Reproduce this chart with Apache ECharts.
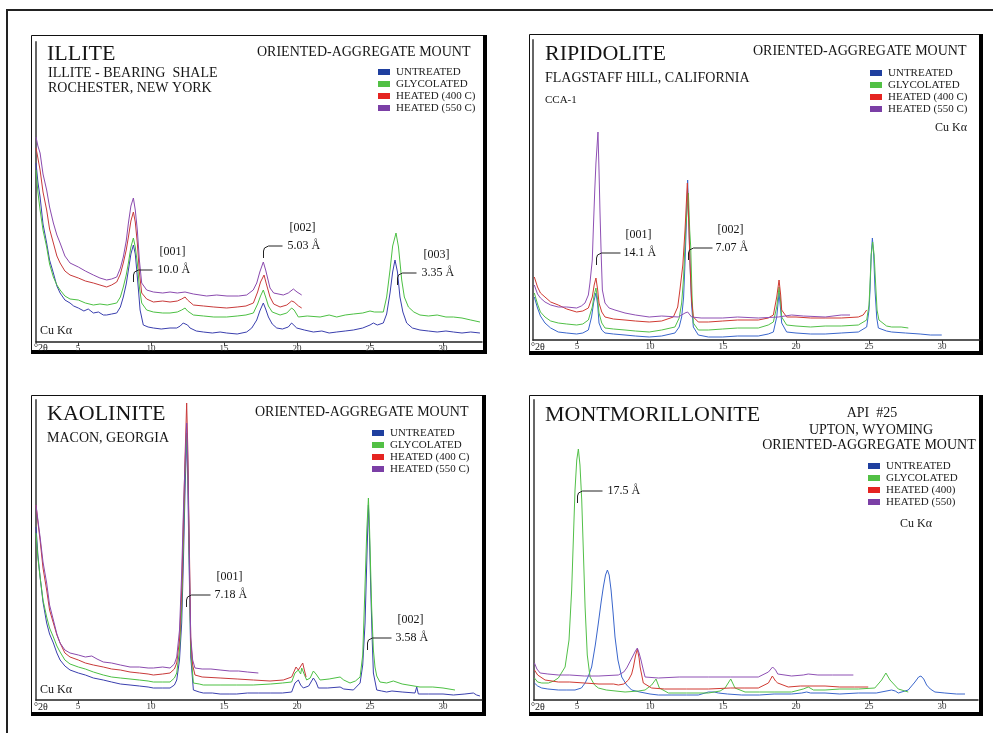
<!DOCTYPE html>
<html>
<head>
<meta charset="utf-8">
<title>Clay minerals - XRD patterns</title>
<script src="https://cdn.jsdelivr.net/npm/echarts@6/dist/echarts.min.js"></script>
<style>
    html, body { margin: 0; padding: 0; background: #fff; }
    #main { width: 993px; height: 733px; }
</style>
</head>
<body>
<div id="main"></div>
<script>
// peak traces, [°2θ, counts]
var illiteUntreated = [[2.12,179],[2.25,160],[2.40,145],[2.6,118],[2.85,99],[3.05,82],[3.31,69],[3.55,56],[3.77,49],[4.1,42],[4.45,39],[4.7,36],[5.02,34],[5.4,31],[5.7,33],[6.05,29],[6.4,30],[6.73,27],[6.96,27],[7.3,28],[7.65,29],[7.9,35],[8.10,45],[8.3,58],[8.45,72],[8.62,88],[8.79,97],[8.92,88],[9.02,72],[9.15,50],[9.25,32],[9.47,17],[9.8,15],[10.16,14],[10.7,13],[11.3,14],[11.76,14],[12.0,16],[12.2,19],[12.33,20],[12.5,17],[12.67,14],[13.1,11],[13.58,10],[14.2,9],[14.73,10],[15.18,9],[15.9,8],[16.55,10],[16.9,14],[17.24,22],[17.45,31],[17.69,39],[17.85,33],[18.04,25],[18.3,18],[18.61,14],[19.0,13],[19.4,15],[19.63,19],[19.75,18],[19.98,14],[20.5,12],[21.12,10],[21.7,11],[22.2,9],[22.72,10],[23.3,11],[23.86,12],[24.5,14],[25.0,17],[25.23,19],[25.5,17],[25.91,19],[26.14,28],[26.37,49],[26.55,70],[26.71,82],[26.88,70],[27.05,45],[27.25,30],[27.51,19],[27.9,14],[28.42,12],[29.0,11],[29.6,10],[30.2,11],[30.71,10],[31.3,9],[31.9,10],[32.53,9]];
var illiteGlycolated = [[2.12,172],[2.25,150],[2.40,132],[2.6,112],[2.85,95],[3.05,78],[3.31,65],[3.55,57],[3.77,52],[4.1,46],[4.45,43],[5.02,42],[5.5,39],[6.05,37],[6.5,38],[7.0,37],[7.65,39],[7.9,45],[8.10,55],[8.3,67],[8.45,79],[8.62,95],[8.79,104],[8.92,95],[9.06,79],[9.2,55],[9.36,39],[9.70,32],[10.16,30],[10.8,29],[11.3,29],[11.8,30],[12.1,32],[12.33,34],[12.5,31],[12.9,27],[13.6,26],[14.3,25],[15.18,25],[15.9,26],[16.5,27],[17.01,29],[17.3,38],[17.5,46],[17.69,52],[17.85,45],[18.04,36],[18.3,30],[18.84,27],[19.3,29],[19.63,34],[19.8,32],[20.09,25],[20.7,26],[21.58,25],[22.2,27],[22.72,25],[23.3,27],[23.86,28],[24.5,29],[25.0,31],[25.3,30],[25.91,30],[26.14,45],[26.37,72],[26.55,96],[26.78,109],[26.95,95],[27.17,62],[27.35,45],[27.63,35],[28.0,30],[28.42,27],[29.0,26],[29.6,27],[30.2,25],[30.71,25],[31.3,24],[31.9,22],[32.53,20]];
var illiteHeated400 = [[2.12,194],[2.25,184],[2.40,172],[2.6,150],[2.85,132],[3.05,113],[3.31,99],[3.55,86],[3.77,79],[4.1,71],[4.45,67],[5.02,64],[5.5,61],[6.05,59],[6.5,57],[6.96,55],[7.3,57],[7.65,60],[7.9,68],[8.10,79],[8.3,92],[8.45,105],[8.62,121],[8.79,130],[8.92,120],[9.06,99],[9.2,70],[9.36,49],[9.70,43],[10.16,40],[10.8,41],[11.3,40],[11.8,41],[12.1,43],[12.33,45],[12.5,42],[12.9,37],[13.6,36],[14.3,35],[15.18,34],[15.9,35],[16.5,36],[17.01,39],[17.3,50],[17.5,60],[17.74,67],[17.9,58],[18.15,45],[18.4,38],[18.84,35],[19.3,37],[19.63,41],[19.8,40],[20.1,36],[20.32,34]];
var illiteHeated550 = [[2.12,205],[2.25,196],[2.40,189],[2.6,168],[2.85,152],[3.05,135],[3.31,119],[3.55,107],[3.77,99],[4.1,86],[4.45,79],[5.02,75],[5.5,71],[6.05,67],[6.5,64],[6.96,62],[7.3,63],[7.65,65],[7.9,74],[8.10,85],[8.3,101],[8.45,119],[8.62,136],[8.79,144],[8.92,132],[9.06,112],[9.2,82],[9.36,59],[9.70,52],[10.16,50],[10.8,49],[11.3,50],[11.8,49],[12.33,50],[12.9,48],[13.81,46],[14.5,47],[15.2,46],[16.0,46],[16.55,47],[17.0,52],[17.24,59],[17.45,70],[17.69,80],[17.85,72],[18.15,54],[18.4,49],[19.06,47],[19.4,49],[19.75,53],[20.0,50],[20.32,47]];

var ripUntreated = [[2.08,43],[2.3,32],[2.5,24],[2.81,17],[3.2,12],[3.72,8],[4.3,7],[4.98,6],[5.4,7],[5.78,10],[6.0,23],[6.15,38],[6.30,47],[6.42,35],[6.51,17],[6.7,10],[6.92,7],[7.5,6],[8.29,5],[9.0,4],[9.95,3],[10.8,4],[11.71,7],[12.0,13],[12.17,23],[12.30,42],[12.40,77],[12.50,120],[12.58,160],[12.66,120],[12.74,77],[12.85,35],[12.97,13],[13.31,5],[14.0,3],[14.98,3],[16.0,4],[17.42,4],[18.1,6],[18.45,8],[18.68,23],[18.84,47],[18.95,30],[19.02,17],[19.36,8],[20.0,7],[21.0,6],[22.0,6],[23.1,7],[24.27,8],[24.84,13],[25.0,30],[25.07,50],[25.15,85],[25.23,102],[25.32,85],[25.41,50],[25.53,22],[25.64,12],[26.2,9],[26.55,8],[27.5,7],[28.5,6],[29.2,5],[29.98,5]];
var ripGlycolated = [[2.08,47],[2.3,36],[2.5,28],[2.81,23],[3.2,19],[3.72,17],[4.3,16],[4.98,15],[5.4,16],[5.78,20],[6.05,33],[6.18,45],[6.30,52],[6.42,40],[6.51,27],[6.7,17],[6.92,12],[7.5,11],[8.29,10],[9.0,9],[9.95,8],[10.8,10],[11.71,13],[12.0,22],[12.17,37],[12.30,62],[12.44,110],[12.63,147],[12.72,110],[12.79,93],[12.88,45],[12.97,17],[13.31,10],[14.0,10],[14.98,11],[16.0,12],[17.42,12],[18.1,15],[18.45,18],[18.68,33],[18.84,53],[18.95,38],[19.02,23],[19.36,15],[20.0,14],[21.0,13],[22.0,14],[23.1,14],[24.27,15],[24.84,20],[25.0,35],[25.07,57],[25.15,85],[25.25,98],[25.35,85],[25.45,57],[25.55,30],[25.68,20],[26.2,14],[26.55,13],[27.2,13],[27.69,12]];
var ripHeated400 = [[2.08,63],[2.3,53],[2.5,47],[2.81,43],[3.2,38],[3.72,35],[4.3,31],[4.98,28],[5.4,29],[5.78,32],[6.05,43],[6.18,55],[6.30,62],[6.42,50],[6.51,37],[6.7,28],[6.92,23],[7.5,21],[8.29,20],[9.0,19],[9.95,18],[10.8,19],[11.60,23],[11.9,33],[12.05,50],[12.25,75],[12.40,110],[12.56,157],[12.65,120],[12.74,77],[12.85,40],[12.97,23],[13.31,18],[14.0,18],[14.98,19],[16.0,20],[17.42,20],[18.1,22],[18.45,25],[18.68,43],[18.84,60],[18.95,45],[19.02,30],[19.36,23],[20.0,23],[21.0,22],[22.0,22],[23.1,22],[24.27,23],[24.6,25],[24.84,30]];
var ripHeated550 = [[2.08,55],[2.3,46],[2.5,42],[2.81,38],[3.2,35],[3.72,33],[4.3,33],[4.98,32],[5.3,34],[5.55,37],[5.78,45],[5.89,57],[6.05,80],[6.12,110],[6.22,150],[6.30,177],[6.44,208],[6.51,170],[6.58,127],[6.66,85],[6.74,50],[6.92,37],[7.2,32],[7.6,30],[8.29,27],[9.0,25],[9.95,23],[10.8,24],[11.94,23],[12.40,27],[12.58,28],[12.85,23],[13.5,22],[14.98,22],[16.0,23],[17.42,22],[18.79,23],[19.70,25],[20.5,24],[22.0,23],[23.1,25],[23.70,25]];

var kaolUntreated = [[2.12,173],[2.25,145],[2.40,123],[2.6,98],[2.85,77],[3.05,66],[3.31,57],[3.55,47],[3.77,40],[4.1,34],[4.45,30],[5.02,27],[5.5,25],[6.05,22],[6.73,20],[7.3,18],[7.9,16],[8.56,15],[9.2,14],[9.8,13],[10.16,12],[10.8,12],[11.30,12],[11.60,15],[11.76,20],[11.95,40],[12.10,77],[12.22,140],[12.33,210],[12.44,262],[12.52,220],[12.56,177],[12.65,100],[12.72,43],[12.90,10],[13.3,8],[13.58,7],[14.2,7],[14.73,6],[15.4,6],[15.87,6],[16.6,7],[17.35,7],[18.2,7],[19.0,7],[19.63,8],[19.86,17],[20.09,20],[20.25,15],[20.43,12],[20.8,14],[21.12,22],[21.3,18],[21.46,12],[22.1,12],[22.95,13],[23.2,11],[23.86,10],[24.32,17],[24.5,35],[24.66,77],[24.80,150],[24.89,195],[24.97,160],[25.05,110],[25.15,60],[25.23,27],[25.46,10],[25.8,9],[26.14,8],[26.5,9],[27.2,8],[28.08,7],[28.20,13],[28.31,6],[29.0,6],[30.0,6],[30.71,5],[31.5,6],[32.08,7],[32.3,5],[32.53,4]];
var kaolGlycolated = [[2.12,167],[2.25,142],[2.40,123],[2.6,100],[2.85,83],[3.05,72],[3.31,63],[3.55,54],[3.77,48],[4.1,40],[4.45,36],[5.02,33],[5.5,31],[6.05,28],[6.73,25],[7.3,23],[7.9,22],[8.56,21],[9.2,20],[9.8,19],[10.16,18],[10.8,18],[11.30,18],[11.60,22],[11.76,27],[11.95,50],[12.10,93],[12.22,160],[12.33,227],[12.44,267],[12.52,230],[12.56,193],[12.65,110],[12.72,50],[12.90,17],[13.3,16],[13.58,15],[14.73,15],[15.87,15],[17.0,15],[18.2,16],[19.0,17],[19.63,18],[19.86,27],[20.09,30],[20.25,26],[20.32,32],[20.43,28],[20.66,20],[20.9,22],[21.12,29],[21.3,26],[21.58,20],[22.2,21],[22.95,23],[23.2,20],[23.63,17],[24.0,19],[24.32,23],[24.5,45],[24.61,93],[24.78,170],[24.89,202],[24.97,170],[25.11,93],[25.23,50],[25.34,33],[25.46,24],[25.68,18],[26.14,17],[26.6,19],[27.2,16],[28.42,13],[29.3,13],[30.0,12],[30.82,10]];
var kaolHeated400 = [[2.12,195],[2.25,178],[2.40,160],[2.6,132],[2.85,110],[3.05,90],[3.31,77],[3.55,65],[3.77,57],[4.1,47],[4.45,43],[5.02,40],[5.5,37],[6.05,35],[6.73,33],[7.3,31],[7.9,30],[8.56,28],[9.2,27],[9.8,26],[10.16,25],[10.8,26],[11.30,27],[11.60,31],[11.76,37],[11.95,60],[12.10,110],[12.22,180],[12.33,243],[12.44,297],[12.52,250],[12.56,210],[12.65,130],[12.72,60],[12.85,35],[13.01,25],[13.5,23],[14.73,22],[15.9,21],[17.01,20],[18.15,19],[19.06,20],[19.63,23],[19.93,33],[20.09,30],[20.16,28],[20.39,37],[20.5,30],[20.62,23]];
var kaolHeated550 = [[2.12,195],[2.25,180],[2.40,163],[2.6,138],[2.85,117],[3.05,95],[3.31,80],[3.55,66],[3.77,57],[4.1,50],[4.45,47],[5.02,45],[5.5,43],[5.94,44],[6.3,41],[6.73,38],[7.3,37],[7.9,35],[8.56,33],[9.2,33],[9.8,32],[10.16,32],[10.8,33],[11.30,32],[11.60,36],[11.76,43],[11.95,70],[12.10,127],[12.22,190],[12.33,237],[12.44,277],[12.52,240],[12.56,200],[12.65,120],[12.72,63],[12.85,40],[13.01,32],[13.5,31],[14.1,31],[14.73,30],[15.4,29],[16.0,29],[16.6,28],[17.35,27]];

var montUntreated = [[2.08,17],[2.3,14],[2.58,12],[3.0,11],[3.72,10],[4.3,10],[4.86,10],[5.3,12],[5.55,17],[5.78,24],[6.00,33],[6.25,55],[6.46,77],[6.65,98],[6.80,113],[6.95,125],[7.08,130],[7.2,125],[7.33,110],[7.47,87],[7.60,63],[7.8,40],[8.06,23],[8.4,15],[8.74,10],[9.3,8],[10.0,6],[10.57,5],[11.5,5],[12.5,5],[13.31,5],[14.0,8],[14.4,8],[14.68,7],[15.3,6],[16.28,5],[17.5,5],[18.5,6],[19.70,6],[20.4,7],[20.73,8],[21.0,7],[21.99,7],[23.0,6],[24.27,7],[25.5,7],[26.55,10],[26.8,9],[27.01,7],[27.69,10],[28.15,18],[28.4,23],[28.56,24],[28.75,21],[28.95,15],[29.2,11],[29.52,8],[30.2,7],[31.0,6],[31.58,6]];
var montGlycolated = [[2.08,22],[2.3,18],[2.58,17],[3.04,17],[3.4,19],[3.72,22],[4.18,33],[4.45,60],[4.63,110],[4.86,210],[4.98,240],[5.09,251],[5.2,235],[5.32,200],[5.45,140],[5.55,93],[5.7,45],[5.89,23],[6.2,15],[6.46,12],[7.0,10],[8.29,8],[9.2,9],[9.66,10],[10.11,15],[10.41,21],[10.64,12],[11.26,7],[12.5,7],[14.0,7],[14.8,9],[15.14,12],[15.53,21],[15.82,12],[16.51,8],[17.5,8],[18.5,8],[19.70,8],[20.5,11],[20.84,13],[21.2,10],[21.99,10],[23.0,11],[24.27,11],[25.4,12],[25.87,20],[26.16,27],[26.44,20],[26.63,17],[27.01,11],[27.12,10],[27.69,8]];
var montHeated400 = [[2.08,30],[2.3,25],[2.81,20],[3.72,18],[4.5,18],[5.5,17],[6.5,16],[7.5,16],[7.83,15],[8.2,16],[8.52,20],[8.74,26],[8.86,33],[9.0,44],[9.13,51],[9.25,42],[9.32,33],[9.54,17],[10.11,12],[11.0,11],[12.5,11],[14.0,11],[15.5,12],[16.5,12],[17.42,12],[18.11,17],[18.38,24],[18.6,19],[18.75,17],[19.47,13],[20.3,14],[21.99,14],[23.0,13],[24.0,13],[24.95,13]];
var montHeated550 = [[2.08,37],[2.25,31],[2.47,27],[3.0,26],[3.72,25],[4.5,25],[5.5,24],[6.5,24],[7.83,25],[8.2,28],[8.40,32],[8.79,43],[9.0,49],[9.13,52],[9.25,47],[9.38,40],[9.54,30],[9.66,23],[10.57,22],[12.0,23],[14.0,23],[15.5,23],[17.42,23],[18.11,28],[18.40,33],[18.6,30],[18.75,26],[19.70,24],[20.5,25],[20.84,26],[21.5,25],[22.5,25],[23.93,25]];

var tickValues = [5, 10, 15, 20, 25, 30];
var namesC = ['UNTREATED', 'GLYCOLATED', 'HEATED (400 C)', 'HEATED (550 C)'];
var namesMont = ['UNTREATED', 'GLYCOLATED', 'HEATED (400)', 'HEATED (550)'];

var colorsDark = ['#3a3fae', '#4cc043', '#c83a3a', '#8a4aae'];
var colorsLight = ['#3a66cc', '#52c048', '#d03a32', '#8e50b4'];
var swatch = ['#1f3f9f', '#52c045', '#e52421', '#7b3fa6'];
var serif = '"Liberation Serif", "Times New Roman", serif';

var myChart = echarts.init(document.getElementById('main'));

// 4 panels, y runs 0-300 counts over 300px
var panels = [
    {left: 36, top: 42, width: 446, min: 2.12, max: 32.67, names: namesC, colors: colorsDark,
        data: [illiteUntreated, illiteGlycolated, illiteHeated400, illiteHeated550], legend: [378, 66]},
    {left: 533, top: 40, width: 447, min: 1.99, max: 32.6, names: namesC, colors: colorsLight,
        data: [ripUntreated, ripGlycolated, ripHeated400, ripHeated550], legend: [870, 67]},
    {left: 36, top: 400, width: 446, min: 2.12, max: 32.67, names: namesC, colors: colorsDark,
        data: [kaolUntreated, kaolGlycolated, kaolHeated400, kaolHeated550], legend: [372, 427]},
    {left: 534, top: 400, width: 444, min: 2.05, max: 32.47, names: namesMont, colors: colorsLight,
        data: [montUntreated, montGlycolated, montHeated400, montHeated550], legend: [868, 460]}
];

var grids = [], xAxes = [], yAxes = [], series = [], legends = [];
panels.forEach(function (p, i) {
    grids.push({left: p.left, top: p.top, width: p.width, height: 300, containLabel: false, outerBoundsMode: 'none'});
    xAxes.push({
        type: 'value', gridIndex: i, min: p.min, max: p.max,
        axisLine: {show: true, onZero: false, lineStyle: {color: '#222', width: 1.5}},
        axisTick: {show: true, customValues: tickValues, length: 4, lineStyle: {color: '#444'}},
        axisLabel: {customValues: tickValues, fontSize: 9, fontFamily: serif, color: '#333', margin: 2},
        splitLine: {show: false}
    });
    yAxes.push({
        type: 'value', gridIndex: i, min: 0, max: 300,
        axisLine: {show: true, onZero: false, lineStyle: {color: '#666', width: 2}},
        axisTick: {show: false}, axisLabel: {show: false}, splitLine: {show: false}
    });
    p.data.forEach(function (d, j) {
        series.push({
            type: 'line', name: p.names[j], xAxisIndex: i, yAxisIndex: i, data: d,
            showSymbol: false, symbol: 'none', silent: true, z: 2 + j,
            lineStyle: {width: 1, color: p.colors[j]},
            itemStyle: {color: swatch[j]}
        });
    });
    legends.push({
        left: p.legend[0], top: p.legend[1], orient: 'vertical', padding: 0, itemGap: 0,
        itemWidth: 12, itemHeight: 6, icon: 'rect', selectedMode: false,
        itemStyle: {borderWidth: 0},
        textStyle: {fontFamily: serif, fontSize: 11, lineHeight: 12, color: '#222', padding: [0, 0, 0, 1]},
        data: p.names.map(function (n, j) { return {name: n, itemStyle: {color: swatch[j]}}; })
    });
});

myChart.setOption({
    animation: false,
    backgroundColor: '#fff',
    grid: grids,
    xAxis: xAxes,
    yAxis: yAxes,
    legend: legends,
    series: series
});

// titles / labels [text, x, y, size, align]
var labels = [
    ['ILLITE', 47, 54, 22], ['ILLITE - BEARING  SHALE', 48, 73, 14], ['ROCHESTER, NEW YORK', 48, 88, 14],
    ['ORIENTED-AGGREGATE MOUNT', 257, 52, 14], ['Cu K\u03b1', 40, 331, 12], ['\u00b02\u03b8', 34, 348, 10],
    ['RIPIDOLITE', 545, 54, 22], ['FLAGSTAFF HILL, CALIFORNIA', 545, 78, 14], ['CCA-1', 545, 100, 11],
    ['ORIENTED-AGGREGATE MOUNT', 753, 51, 14], ['Cu K\u03b1', 935, 128, 12], ['\u00b02\u03b8', 531, 347, 10],
    ['KAOLINITE', 47, 414, 22], ['MACON, GEORGIA', 47, 438, 14],
    ['ORIENTED-AGGREGATE MOUNT', 255, 412, 14], ['Cu K\u03b1', 40, 690, 12], ['\u00b02\u03b8', 34, 707, 10],
    ['MONTMORILLONITE', 545, 415, 22], ['API  #25', 872, 413, 14, 'center'], ['UPTON, WYOMING', 871, 430, 14, 'center'],
    ['ORIENTED-AGGREGATE MOUNT', 869, 445, 14, 'center'], ['Cu K\u03b1', 900, 524, 12], ['\u00b02\u03b8', 531, 707, 10]
];

// peak callouts, anchored in data coords
var notes = [
    {panel: 0, at: [8.77, 60], hkl: '[001]', d: '10.0 \u00c5', len: 19, gap: 24},
    {panel: 0, at: [17.67, 84], hkl: '[002]', d: '5.03 \u00c5', len: 19, gap: 24},
    {panel: 0, at: [26.85, 57], hkl: '[003]', d: '3.35 \u00c5', len: 19, gap: 24},
    {panel: 1, at: [6.30, 75], hkl: '[001]', d: '14.1 \u00c5', len: 24, gap: 27},
    {panel: 1, at: [12.60, 80], hkl: '[002]', d: '7.07 \u00c5', len: 24, gap: 27},
    {panel: 2, at: [12.40, 93], hkl: '[001]', d: '7.18 \u00c5', len: 24, gap: 28},
    {panel: 2, at: [24.79, 50], hkl: '[002]', d: '3.58 \u00c5', len: 24, gap: 28},
    {panel: 3, at: [5.02, 197], hkl: '', d: '17.5 \u00c5', len: 25, gap: 30}
];

function text(s, x, y, size, align) {
    return {
        type: 'text', x: x, y: y, z: 10, silent: true,
        style: {text: s, fill: '#151515', font: size + 'px ' + serif, align: align || 'left', verticalAlign: 'middle'}
    };
}

var boxes = [[31, 35, 483, 350], [529, 34, 979, 351], [31, 395, 482, 712], [529, 395, 979, 712]];
var els = [];
els.push({type: 'polyline', silent: true, shape: {points: [[7, 733], [7, 10], [993, 10]]}, style: {stroke: '#222', lineWidth: 2, fill: null}});
boxes.forEach(function (b) {
    els.push({type: 'rect', silent: true, shape: {x: b[0] + 0.5, y: b[1] + 0.5, width: b[2] - b[0], height: b[3] - b[1]},
        style: {stroke: '#111', lineWidth: 1, fill: null}});
    els.push({type: 'line', silent: true, shape: {x1: b[2] + 2, y1: b[1], x2: b[2] + 2, y2: b[3] + 4}, style: {stroke: '#000', lineWidth: 4}});
    els.push({type: 'line', silent: true, shape: {x1: b[0], y1: b[3] + 2, x2: b[2] + 4, y2: b[3] + 2}, style: {stroke: '#000', lineWidth: 4}});
});
labels.forEach(function (l) {
    els.push(text(l[0], l[1], l[2], l[3], l[4]));
});
notes.forEach(function (n) {
    var p = myChart.convertToPixel({gridIndex: n.panel}, n.at);
    var bx = Math.round(p[0]) + 0.5, by = Math.round(p[1]);
    els.push({type: 'polyline', silent: true, z: 10,
        shape: {points: [[bx, by], [bx, by - 7], [bx + 1, by - 10], [bx + 5, by - 12], [bx + n.len, by - 12]]},
        style: {stroke: '#222', lineWidth: 1, fill: null}});
    els.push(text(n.d, bx + n.gap, by - 12, 12));
    if (n.hkl) {
        els.push(text(n.hkl, bx + n.gap + 15, by - 30, 12, 'center'));
    }
});

myChart.setOption({graphic: {elements: els}});
</script>
</body>
</html>
